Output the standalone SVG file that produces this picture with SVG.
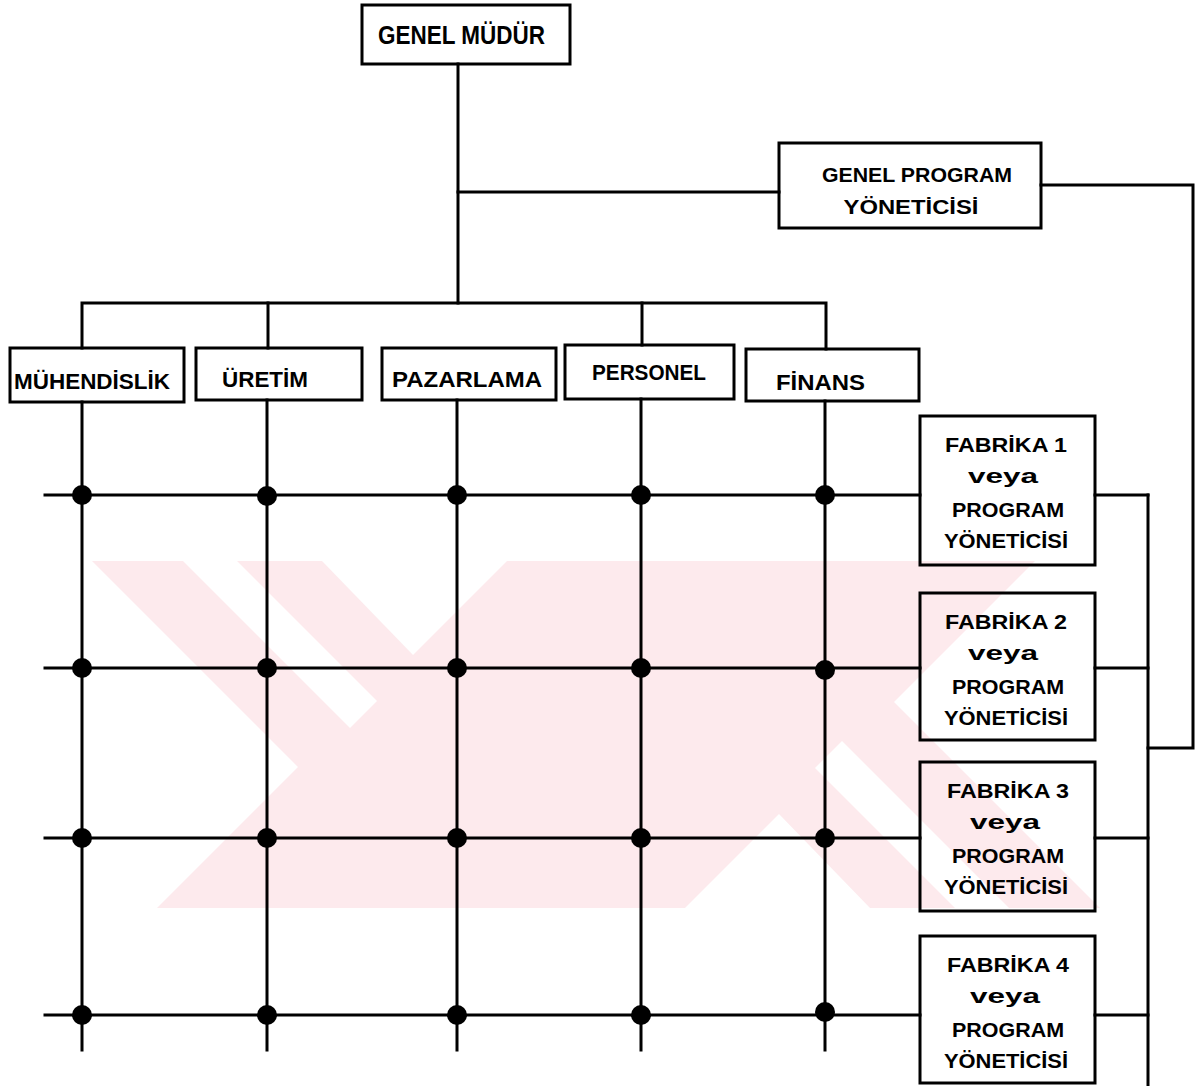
<svg xmlns="http://www.w3.org/2000/svg" width="1197" height="1086" viewBox="0 0 1197 1086">
  <style>
    .box { fill: none; stroke: #000; stroke-width: 3; }
    .ln { fill: none; stroke: #000; stroke-width: 3; stroke-linecap: square; }
    .dot { fill: #000; }
    .t { font-family: "Liberation Sans", Arial, sans-serif; font-weight: bold; fill: #000; }
    .tl { font-size: 25px; }
    .tm { font-size: 22px; }
    .ts { font-size: 21px; }
    .wm { fill: #fdeaed; }
    .wc { fill: #fff; }
  </style>
  <rect width="1197" height="1086" fill="#fff"/>

  <!-- pale background emblem behind the matrix (point-symmetric chevrons) -->
  <g id="emblem">
    <polygon class="wm" points="92,561 1035,561 894,702 1100,908 157,908 298,767"/>
    <polygon class="wc" points="183,561 237,561 377,701 350,728"/>
    <polygon class="wc" points="322,561 507,561 413,655"/>
    <polygon class="wc" points="1009,908 955,908 815,768 842,741"/>
    <polygon class="wc" points="870,908 685,908 779,814"/>
  </g>

  <!-- connectors -->
  <g id="connectors">
    <!-- head to departments -->
    <polyline class="ln" points="458,64 458,303"/>
    <polyline class="ln" points="458,192 779,192"/>
    <polyline class="ln" points="82,348 82,303 826,303 826,349"/>
    <polyline class="ln" points="268,303 268,348"/>
    <polyline class="ln" points="642,303 642,345"/>
    <!-- program manager to plant bus -->
    <polyline class="ln" points="1041,185 1193,185 1193,748 1148,748"/>
    <polyline class="ln" points="1148,495 1148,1086"/>
    <polyline class="ln" points="1095,495 1148,495"/>
    <polyline class="ln" points="1095,668 1148,668"/>
    <polyline class="ln" points="1095,838 1148,838"/>
    <polyline class="ln" points="1095,1015 1148,1015"/>
    <!-- matrix columns -->
    <polyline class="ln" points="82,402 82,1050"/>
    <polyline class="ln" points="267,400 267,1050"/>
    <polyline class="ln" points="457,400 457,1050"/>
    <polyline class="ln" points="641,399 641,1050"/>
    <polyline class="ln" points="825,401 825,1050"/>
    <!-- matrix rows -->
    <polyline class="ln" points="45,495 920,495"/>
    <polyline class="ln" points="45,668 920,668"/>
    <polyline class="ln" points="45,838 920,838"/>
    <polyline class="ln" points="45,1015 920,1015"/>
    <!-- junction dots -->
    <g class="dot">
      <circle cx="82" cy="495" r="10"/><circle cx="267" cy="496" r="10"/><circle cx="457" cy="495" r="10"/><circle cx="641" cy="495" r="10"/><circle cx="825" cy="495" r="10"/>
      <circle cx="82" cy="668" r="10"/><circle cx="267" cy="668" r="10"/><circle cx="457" cy="668" r="10"/><circle cx="641" cy="668" r="10"/><circle cx="825" cy="670" r="10"/>
      <circle cx="82" cy="838" r="10"/><circle cx="267" cy="838" r="10"/><circle cx="457" cy="838" r="10"/><circle cx="641" cy="838" r="10"/><circle cx="825" cy="838" r="10"/>
      <circle cx="82" cy="1015" r="10"/><circle cx="267" cy="1015" r="10"/><circle cx="457" cy="1015" r="10"/><circle cx="641" cy="1015" r="10"/><circle cx="825" cy="1012" r="10"/>
    </g>
  </g>

  <g id="genel-mudur">
    <rect class="box" x="362" y="5" width="208" height="59"/>
    <text class="t tl" x="378" y="44" textLength="167" lengthAdjust="spacingAndGlyphs">GENEL  MÜDÜR</text>
  </g>

  <g id="genel-program">
    <rect class="box" x="779" y="143" width="262" height="85"/>
    <text class="t ts" x="917" y="182" text-anchor="middle" textLength="190" lengthAdjust="spacingAndGlyphs">GENEL PROGRAM</text>
    <text class="t ts" x="911" y="214" text-anchor="middle" textLength="135" lengthAdjust="spacingAndGlyphs">YÖNETİCİSİ</text>
  </g>

  <g id="muhendislik">
    <rect class="box" x="10" y="348" width="174" height="54"/>
    <text class="t tm" x="14" y="389" textLength="156" lengthAdjust="spacingAndGlyphs">MÜHENDİSLİK</text>
  </g>
  <g id="uretim">
    <rect class="box" x="196" y="348" width="166" height="52"/>
    <text class="t tm" x="222" y="387" textLength="86" lengthAdjust="spacingAndGlyphs">ÜRETİM</text>
  </g>
  <g id="pazarlama">
    <rect class="box" x="382" y="348" width="174" height="52"/>
    <text class="t tm" x="392" y="387" textLength="150" lengthAdjust="spacingAndGlyphs">PAZARLAMA</text>
  </g>
  <g id="personel">
    <rect class="box" x="565" y="345" width="169" height="54"/>
    <text class="t tm" x="592" y="380" textLength="114" lengthAdjust="spacingAndGlyphs">PERSONEL</text>
  </g>
  <g id="finans">
    <rect class="box" x="746" y="349" width="173" height="52"/>
    <text class="t tm" x="776" y="390" textLength="89" lengthAdjust="spacingAndGlyphs">FİNANS</text>
  </g>

  <g id="fabrika-1">
    <rect class="box" x="920" y="416" width="175" height="149"/>
    <text class="t ts" x="1006" y="452" text-anchor="middle" textLength="122" lengthAdjust="spacingAndGlyphs">FABRİKA 1</text>
    <text class="t ts" x="1003" y="483" text-anchor="middle" textLength="70" lengthAdjust="spacingAndGlyphs">veya</text>
    <text class="t ts" x="1008" y="517" text-anchor="middle" textLength="112" lengthAdjust="spacingAndGlyphs">PROGRAM</text>
    <text class="t ts" x="1006" y="548" text-anchor="middle" textLength="124" lengthAdjust="spacingAndGlyphs">YÖNETİCİSİ</text>
  </g>
  <g id="fabrika-2">
    <rect class="box" x="920" y="593" width="175" height="147"/>
    <text class="t ts" x="1006" y="629" text-anchor="middle" textLength="122" lengthAdjust="spacingAndGlyphs">FABRİKA 2</text>
    <text class="t ts" x="1003" y="660" text-anchor="middle" textLength="70" lengthAdjust="spacingAndGlyphs">veya</text>
    <text class="t ts" x="1008" y="694" text-anchor="middle" textLength="112" lengthAdjust="spacingAndGlyphs">PROGRAM</text>
    <text class="t ts" x="1006" y="725" text-anchor="middle" textLength="124" lengthAdjust="spacingAndGlyphs">YÖNETİCİSİ</text>
  </g>
  <g id="fabrika-3">
    <rect class="box" x="920" y="762" width="175" height="149"/>
    <text class="t ts" x="1008" y="798" text-anchor="middle" textLength="122" lengthAdjust="spacingAndGlyphs">FABRİKA 3</text>
    <text class="t ts" x="1005" y="829" text-anchor="middle" textLength="70" lengthAdjust="spacingAndGlyphs">veya</text>
    <text class="t ts" x="1008" y="863" text-anchor="middle" textLength="112" lengthAdjust="spacingAndGlyphs">PROGRAM</text>
    <text class="t ts" x="1006" y="894" text-anchor="middle" textLength="124" lengthAdjust="spacingAndGlyphs">YÖNETİCİSİ</text>
  </g>
  <g id="fabrika-4">
    <rect class="box" x="920" y="936" width="175" height="147"/>
    <text class="t ts" x="1008" y="972" text-anchor="middle" textLength="122" lengthAdjust="spacingAndGlyphs">FABRİKA 4</text>
    <text class="t ts" x="1005" y="1003" text-anchor="middle" textLength="70" lengthAdjust="spacingAndGlyphs">veya</text>
    <text class="t ts" x="1008" y="1037" text-anchor="middle" textLength="112" lengthAdjust="spacingAndGlyphs">PROGRAM</text>
    <text class="t ts" x="1006" y="1068" text-anchor="middle" textLength="124" lengthAdjust="spacingAndGlyphs">YÖNETİCİSİ</text>
  </g>
</svg>
